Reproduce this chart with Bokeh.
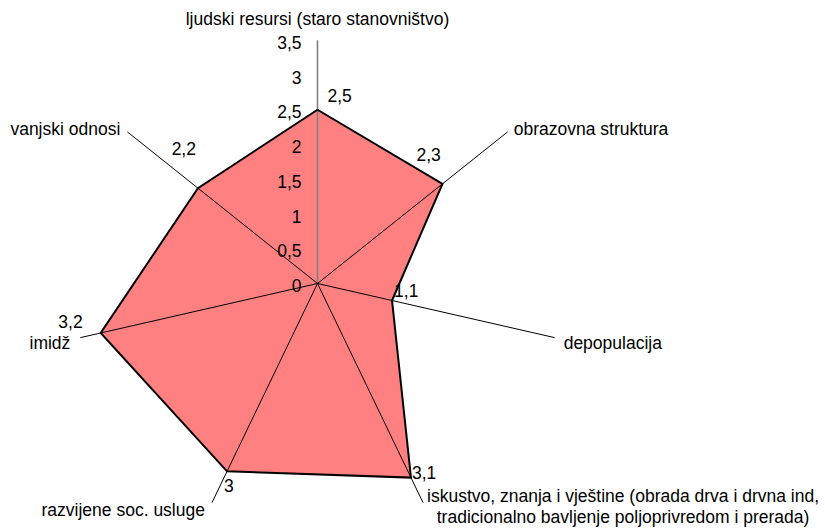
import numpy as np
from bokeh.plotting import figure
from bokeh.core.properties import value
from bokeh.embed import file_html
from bokeh.resources import INLINE

categories = [
    "ljudski resursi (staro stanovništvo)",
    "obrazovna struktura",
    "depopulacija",
    "iskustvo, znanja i vještine (obrada drva i drvna ind,\ntradicionalno bavljenje poljoprivredom i prerada)",
    "razvijene soc. usluge",
    "imidž",
    "vanjski odnosi",
]
values = [2.5, 2.3, 1.1, 3.1, 3.0, 3.2, 2.2]
value_labels = ["2,5", "2,3", "1,1", "3,1", "3", "3,2", "2,2"]
ticks = [0, 0.5, 1, 1.5, 2, 2.5, 3, 3.5]
tick_labels = ["0", "0,5", "1", "1,5", "2", "2,5", "3", "3,5"]
r_max = 3.5

W, H = 825, 528
S = 69.5           # pixels per unit
cx, cy = 317, 283  # centre in figure pixels (from top-left)

FONT = value("Liberation Sans")
FS = value("17.5px")

p = figure(width=W, height=H, output_backend="svg", toolbar_location=None,
           x_range=(-cx / S, (W - cx) / S), y_range=(-(H - cy) / S, cy / S),
           min_border=0, outline_line_color=None)
p.axis.visible = False
p.grid.visible = False
p.background_fill_color = "white"
p.border_fill_color = "white"

n = len(categories)
ang = np.deg2rad(90 - np.arange(n) * 360.0 / n)
vals = np.array(values)
px = vals * np.cos(ang)
py = vals * np.sin(ang)

# filled area
p.patch(list(px), list(py), fill_color="#FF8080", line_color=None)

# spokes
ex = r_max * np.cos(ang)
ey = r_max * np.sin(ang)
for i in range(n):
    col = "#808080" if i == 0 else "black"
    lw = 1.6 if i == 0 else 1
    p.line([0, ex[i]], [0, ey[i]], line_color=col, line_width=lw)

# outline
p.line(list(px) + [px[0]], list(py) + [py[0]], line_color="black",
       line_width=2, line_join="miter")

# radial tick labels
p.text(x=[-16 / S] * len(ticks), y=ticks, text=tick_labels,
       text_align="right", text_baseline="middle", y_offset=2,
       text_font=FONT, text_font_size=FS, text_color="black")

# value labels (offsets in px)
v_off = [(10, -14, "left"), (-26, -29, "left"), (2, -10, "left"),
         (1, -5, "left"), (-3, 14, "left"), (-18, -11, "right"),
         (-2, -40, "right")]
for i in range(n):
    dx, dy, al = v_off[i]
    p.text(x=[px[i]], y=[py[i]], text=[value_labels[i]], x_offset=dx, y_offset=dy,
           text_align=al, text_baseline="middle",
           text_font=FONT, text_font_size=FS, text_color="black")

# category labels
c_off = [(0, -21, "center"), (6, -3, "left"), (9, 5, "left"),
         (200, -7, "center"), (-7, 7, "right"), (-10, 5, "right"),
         (-7, -3, "right")]
for i in range(n):
    dx, dy, al = c_off[i]
    lines = categories[i].split("\n")
    for k, line in enumerate(lines):
        p.text(x=[ex[i]], y=[ey[i]], text=[line], x_offset=dx, y_offset=dy + 21 * k,
               text_align=al, text_baseline="middle",
               text_font=FONT, text_font_size=FS, text_color="black")

open("out.html", "w").write(file_html(p, INLINE))
